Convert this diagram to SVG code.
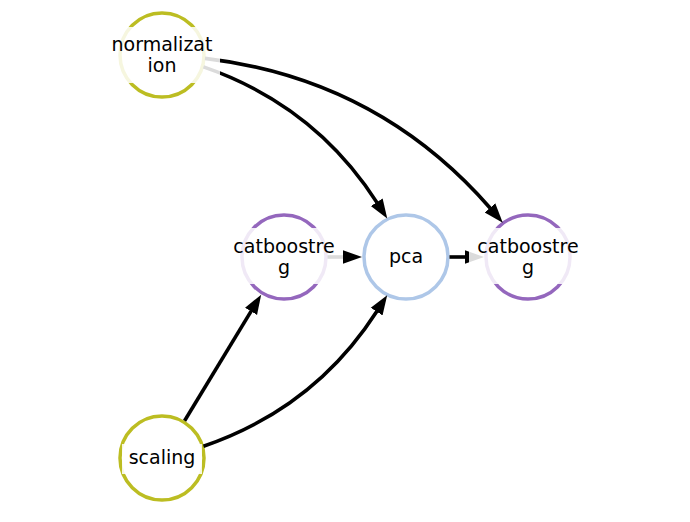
<svg xmlns="http://www.w3.org/2000/svg" width="690" height="522" viewBox="0 0 690 522">
  <style>
    .node { fill: #ffffff; stroke-width: 3.5; }
    .olive { stroke: #bcbd22; }
    .purple { stroke: #9467bd; }
    .blue { stroke: #aec7e8; }
    .edge { fill: none; stroke: #000000; stroke-width: 3.6; marker-end: url(#arrow); }
    .lblbox { fill: #ffffff; fill-opacity: 0.86; stroke: none; }
    .lbl { font-family: "DejaVu Sans", sans-serif; font-size: 19px; fill: #000000; text-anchor: middle; }
  </style>
  <defs>
    <marker id="arrow" markerUnits="userSpaceOnUse" markerWidth="21" markerHeight="16" viewBox="0 -8 21 16" refX="0.5" refY="0" orient="auto">
      <path d="M0,-7 L19.5,0 L0,7 Z" fill="#000000"/>
    </marker>
  </defs>
  <rect width="690" height="522" fill="#ffffff"/>

  <g id="node-normalization"><circle class="node olive" cx="162" cy="55" r="42"/></g>
  <g id="node-catboostreg-1"><circle class="node purple" cx="284" cy="257" r="42"/></g>
  <g id="node-pca"><circle class="node blue" cx="406" cy="257" r="42"/></g>
  <g id="node-catboostreg-2"><circle class="node purple" cx="528" cy="257" r="42"/></g>
  <g id="node-scaling"><circle class="node olive" cx="162" cy="458" r="42"/></g>

  <g id="edges">
    <path class="edge" d="M203.5,66.9 Q314.7,105.3 377.0,202.6"/>
    <path class="edge" d="M205.0,58.4 Q377.7,79.0 490.3,208.3"/>
    <path class="edge" d="M203.5,446.2 Q314.5,408.2 376.9,311.2"/>
    <path class="edge" d="M184.6,420.8 L251.3,310.9"/>
    <path class="edge" d="M327.5,257 L343,257"/>
    <path class="edge" d="M449.5,257 L465,257"/>
  </g>

  <g id="labels">
    <g id="label-normalization">
      <rect class="lblbox" x="104" y="27" width="116" height="56"/>
      <text class="lbl" x="162" y="50.5">normalizat</text>
      <text class="lbl" x="162" y="71.5">ion</text>
    </g>
    <g id="label-catboostreg-1">
      <rect class="lblbox" x="225" y="228" width="118" height="56"/>
      <text class="lbl" x="284" y="252.5">catboostre</text>
      <text class="lbl" x="284" y="273.5">g</text>
    </g>
    <g id="label-pca">
      <rect class="lblbox" x="385" y="242" width="42" height="30"/>
      <text class="lbl" x="406" y="262.5">pca</text>
    </g>
    <g id="label-catboostreg-2">
      <rect class="lblbox" x="469" y="228" width="118" height="56"/>
      <text class="lbl" x="528" y="252.5">catboostre</text>
      <text class="lbl" x="528" y="273.5">g</text>
    </g>
    <g id="label-scaling">
      <rect class="lblbox" x="122" y="444" width="80" height="30"/>
      <text class="lbl" x="162" y="463.5">scaling</text>
    </g>
  </g>
</svg>
